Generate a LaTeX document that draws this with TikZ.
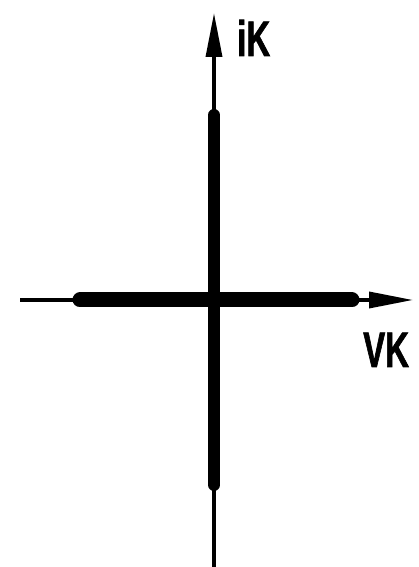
\documentclass[tikz,border=0pt]{standalone}
\usepackage{fontspec}
\newfontfamily\axisfont[FakeStretch=0.66,FakeBold=1.2]{Liberation Sans}
\usetikzlibrary{arrows.meta}

\begin{document}
\begin{tikzpicture}[
  x=1pt,y=1pt,
  axis/.style={-{Triangle[length=44pt,width=16pt]},line width=3.5pt},
  band/.style={line width=#1,line cap=round},
  lbl/.style={inner sep=0pt,anchor=base west,font=\axisfont\bfseries\fontsize{50}{50}\selectfont}
]
\useasboundingbox (0,0) rectangle (419,567);
% axis ends
\coordinate (vbot) at (214,0);
\coordinate (vtop) at (214,554);
\coordinate (hleft) at (20,267);
\coordinate (hright) at (413,267);
% ends of the thick parts
\coordinate (vlo) at (214,82);
\coordinate (vhi) at (214,452);
\coordinate (hlo) at (80,267);
\coordinate (hhi) at (352,267);

\draw[axis] (vbot) -- (vtop);
\draw[axis] (hleft) -- (hright);
\draw[band=12pt] (vlo) -- (vhi);
\draw[band=15pt] (hlo) -- (hhi);

\node[lbl] (ik) at (237,511) {iK};
\node[lbl] (vk) at (363,200) {VK};
\end{tikzpicture}
\end{document}
